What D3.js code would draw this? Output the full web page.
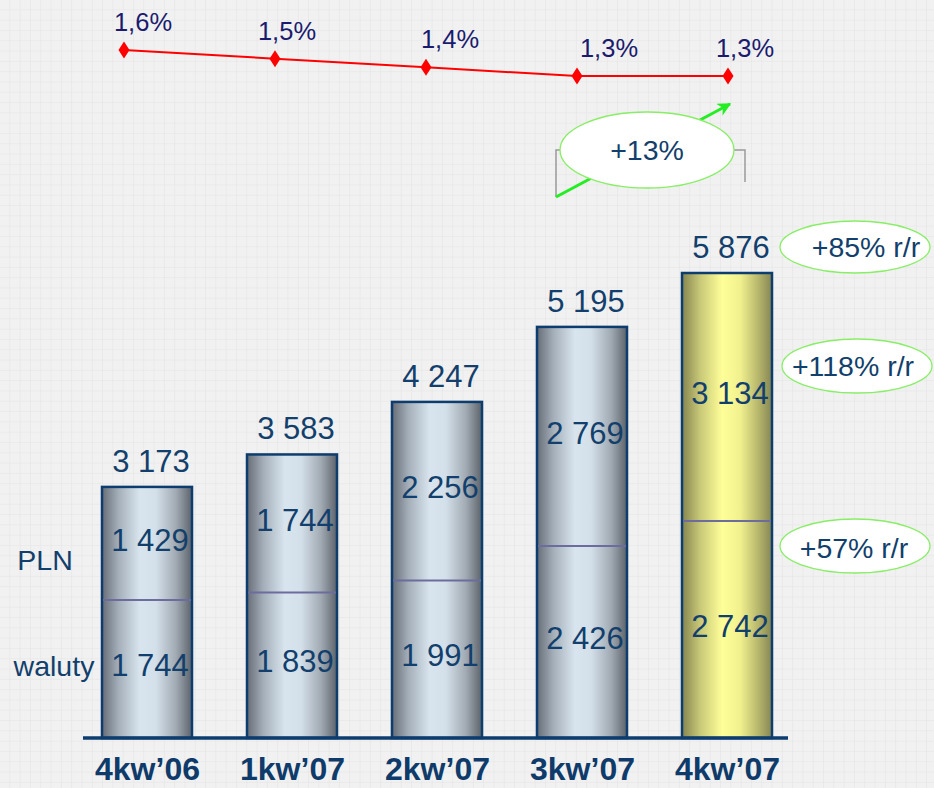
<!DOCTYPE html>
<meta charset="utf-8">
<head>
<style>
  body { margin: 0; background: #f1f1f1; }
  svg text { font-family: "Liberation Sans", Arial, sans-serif; }
  .val { fill: #123f6c; font-size: 31px; text-anchor: middle; }
  .pct { fill: #1b1b6e; font-size: 25.5px; text-anchor: middle; }
  .note { fill: #123f6c; font-size: 28.5px; text-anchor: middle; }
  .x.axis text { fill: #0f3b6b; font-size: 32px; font-weight: bold; }
  .x.axis path { display: none; }
</style>
</head>
<body>
<script src="https://d3js.org/d3.v7.min.js"></script>
<script>
// data
var quarters = ["4kw\u201906", "1kw\u201907", "2kw\u201907", "3kw\u201907", "4kw\u201907"];
var waluty   = [1744, 1839, 1991, 2426, 2742];
var pln      = [1429, 1744, 2256, 2769, 3134];
var totals   = [3173, 3583, 4247, 5195, 5876];
var share    = [1.6, 1.5, 1.4, 1.3, 1.3];
var shareLabels = ["1,6%", "1,5%", "1,4%", "1,3%", "1,3%"];
var notes = ["+85% r/r", "+118% r/r", "+57% r/r"];
var growthNote = "+13%";

var width = 934, height = 788;
var base = 738, barW = 90;

var fmt = function(v) { return d3.format(",")(v).replace(",", " "); };

var svg = d3.select("body").append("svg")
    .attr("width", width)
    .attr("height", height);

var defs = svg.append("defs");

// squared paper background
var pat = defs.append("pattern")
    .attr("id", "grid")
    .attr("width", 10.3).attr("height", 10.3)
    .attr("patternUnits", "userSpaceOnUse");
pat.append("rect").attr("width", 10.3).attr("height", 10.3).attr("fill", "#f1f1f1");
pat.append("path").attr("d", "M10.3 0V10.3M0 10.3H10.3")
    .attr("stroke", "#e3e3e3").attr("stroke-width", 1).attr("fill", "none");

function gradient(id, stops) {
  var g = defs.append("linearGradient").attr("id", id)
      .attr("x1", "0%").attr("x2", "100%").attr("y1", "0%").attr("y2", "0%");
  stops.forEach(function(s) {
    g.append("stop").attr("offset", s[0]).attr("stop-color", s[1]);
  });
}
gradient("steel", [["0%", "#676d76"], ["18%", "#a3aeb9"], ["42%", "#d9e5ee"], ["60%", "#d3dfe9"], ["82%", "#a2abb4"], ["100%", "#5c626a"]]);
gradient("gold", [["0%", "#85854f"], ["20%", "#c8c878"], ["45%", "#ffff99"], ["65%", "#f0f08e"], ["85%", "#b6b66c"], ["100%", "#858553"]]);

svg.append("rect").attr("width", width).attr("height", height).attr("fill", "url(#grid)");

// scales
var x = d3.scalePoint().domain(quarters).range([147, 727]);
var y = d3.scaleLinear().domain([0, 5876]).range([base, 273]);

var xl = d3.scalePoint().domain(quarters).range([124, 728]);
var yl = d3.scaleLinear().domain([1.3, 1.6]).range([76, 50]);

var rows = quarters.map(function(q, i) {
  return { q: q, w: waluty[i], p: pln[i], t: totals[i], last: i === quarters.length - 1 };
});

// bars
var bars = svg.selectAll(".bar")
    .data(rows)
  .enter().append("g")
    .attr("class", "bar");

bars.append("rect")
    .attr("x", function(d) { return x(d.q) - barW / 2; })
    .attr("y", function(d) { return y(d.t); })
    .attr("width", barW)
    .attr("height", function(d) { return base - y(d.t); })
    .attr("fill", function(d) { return d.last ? "url(#gold)" : "url(#steel)"; })
    .attr("stroke", "#0d3c6e")
    .attr("stroke-width", 2.5);

bars.append("line")
    .attr("x1", function(d) { return x(d.q) - barW / 2 + 1; })
    .attr("x2", function(d) { return x(d.q) + barW / 2 - 1; })
    .attr("y1", function(d) { return y(d.w); })
    .attr("y2", function(d) { return y(d.w); })
    .attr("stroke", "#6c6c9e")
    .attr("stroke-width", 2);

bars.append("text")
    .attr("class", "val")
    .attr("x", function(d) { return x(d.q) + 3; })
    .attr("y", function(d) { return (y(d.w) + base) / 2 - 4; })
    .attr("dy", "0.36em")
    .text(function(d) { return fmt(d.w); });

bars.append("text")
    .attr("class", "val")
    .attr("x", function(d) { return x(d.q) + 3; })
    .attr("y", function(d) { return (y(d.w) + y(d.t)) / 2 - 4; })
    .attr("dy", "0.36em")
    .text(function(d) { return fmt(d.p); });

bars.append("text")
    .attr("class", "val")
    .attr("x", function(d) { return x(d.q) + 4; })
    .attr("y", function(d) { return y(d.t) - 15; })
    .text(function(d) { return fmt(d.t); });

// baseline + x axis
svg.append("line")
    .attr("x1", 83).attr("x2", 788)
    .attr("y1", base).attr("y2", base)
    .attr("stroke", "#0d3c6e").attr("stroke-width", 3.5);

svg.append("g")
    .attr("class", "x axis")
    .attr("transform", "translate(0," + base + ")")
    .call(d3.axisBottom(x).tickSize(0).tickPadding(19));

// series labels on the left
svg.append("text").attr("class", "note").attr("x", 45).attr("y", 570).text("PLN");
svg.append("text").attr("class", "note").attr("x", 54).attr("y", 676).text("waluty");

// share line
var line = d3.line()
    .x(function(d, i) { return xl(quarters[i]); })
    .y(function(d) { return yl(d); });

svg.append("path")
    .datum(share)
    .attr("d", line)
    .attr("fill", "none")
    .attr("stroke", "#ff0000")
    .attr("stroke-width", 2);

svg.selectAll(".marker")
    .data(share)
  .enter().append("path")
    .attr("class", "marker")
    .attr("transform", function(d, i) { return "translate(" + xl(quarters[i]) + "," + yl(d) + ")"; })
    .attr("d", "M0,-8.5L5.5,0L0,8.5L-5.5,0Z")
    .attr("fill", "#ff0000");

var labelDx = [19, 12, 24, 32, 17];
svg.selectAll(".pct")
    .data(share)
  .enter().append("text")
    .attr("class", "pct")
    .attr("x", function(d, i) { return xl(quarters[i]) + labelDx[i]; })
    .attr("y", function(d) { return yl(d) - 19; })
    .text(function(d, i) { return shareLabels[i]; });

// growth annotation: bracket, arrow, ellipse
var bx0 = xl(quarters[3]) - 21, bx1 = xl(quarters[4]) + 17;
svg.append("path")
    .attr("d", "M" + bx0 + ",197V150H" + (bx0 + 12) + "M" + (bx1 - 12) + ",150H" + bx1 + "V182")
    .attr("fill", "none")
    .attr("stroke", "#9a9a9a")
    .attr("stroke-width", 1.5);

defs.append("marker")
    .attr("id", "arrow")
    .attr("viewBox", "0 0 10 10")
    .attr("refX", 9).attr("refY", 5)
    .attr("markerWidth", 4.5).attr("markerHeight", 4.5)
    .attr("orient", "auto")
  .append("path")
    .attr("d", "M0,0L10,5L0,10L3,5Z")
    .attr("fill", "#22ee22");

svg.append("line")
    .attr("x1", bx0).attr("y1", 197)
    .attr("x2", xl(quarters[4]) + 2).attr("y2", yl(share[4]) + 28)
    .attr("stroke", "#22ee22")
    .attr("stroke-width", 3)
    .attr("marker-end", "url(#arrow)");

function bubble(cx, cy, rx, ry, txt, tx, ty) {
  svg.append("ellipse")
      .attr("cx", cx).attr("cy", cy).attr("rx", rx).attr("ry", ry)
      .attr("fill", "#ffffff")
      .attr("stroke", "#88ee66")
      .attr("stroke-width", 1.3);
  svg.append("text")
      .attr("class", "note")
      .attr("x", tx).attr("y", ty)
      .text(txt);
}

bubble(647, 150, 87, 38, growthNote, 647, 160);
bubble(855, 247, 75, 26, notes[0], 866, 257);
bubble(857, 366, 75, 27, notes[1], 853, 376);
bubble(855, 546, 75, 27, notes[2], 854, 558);
</script>
</body>
